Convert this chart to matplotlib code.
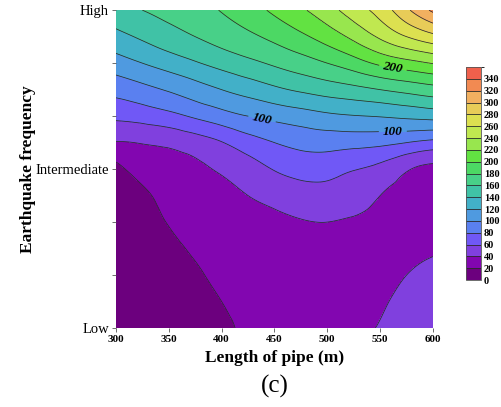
import numpy as np
import matplotlib
matplotlib.use("Agg")
import matplotlib.pyplot as plt
import matplotlib.tri as mtri
from matplotlib.colors import ListedColormap, BoundaryNorm

# ---- data ----
pipe_length = [300, 325, 350, 375, 400, 425, 450, 475, 500, 525, 550, 575, 600]
freq_pos = [0, 1/12, 2/12, 3/12, 4/12, 5/12, 6/12, 7/12, 8/12, 9/12, 10/12, 11/12, 1]
z_rows = [
    [6, 8, 10, 14, 17, 23, 26, 28, 31, 36, 41, 47, 51],
    [4, 7, 11, 15, 20, 25, 27, 29, 31, 34, 38, 44, 47],
    [3, 7, 13, 18, 24, 28, 29, 31, 32, 33, 35, 40, 43],
    [3, 8, 16, 22, 28, 31, 32, 34, 35, 34, 32, 35, 38],
    [4, 11, 21, 27, 32, 34, 36, 39, 40, 38, 34, 32, 31],
    [8, 16, 27, 32, 35, 40, 46, 51, 52, 48, 40, 35, 31],
    [15, 27, 33, 37, 42, 51, 61, 67, 67, 61, 54, 42, 35],
    [39, 41, 44, 50, 59, 71, 80, 86, 88, 87, 85, 80, 74],
    [64, 68, 74, 83, 92, 100, 106, 111, 116, 119, 121, 124, 127],
    [87, 94, 102, 111, 120, 128, 136, 143, 149, 154, 160, 166, 172],
    [111, 120, 129, 138, 147, 155, 163, 171, 180, 191, 204, 213, 221],
    [134, 143, 152, 160, 168, 176, 185, 196, 209, 225, 243, 260, 274],
    [153, 160, 166, 173, 181, 191, 204, 217, 232, 250, 268, 296, 324],
]
levels = list(range(0, 361, 20))
labeled_levels = [100, 200]
band_colors = ["#6c007e", "#8206b0", "#8040de", "#7058f6", "#5a80f0", "#4f9ae0",
               "#42b0c8", "#40c2a6", "#48d088", "#4cd864", "#62e242", "#98e64e",
               "#c0e850", "#dce050", "#e8cc58", "#f2b060", "#f28a52", "#f0604c"]
x_ticks = [300, 350, 400, 450, 500, 550, 600]
y_tick_labels = ["Low", "Intermediate", "High"]
label_spots = [(438, 0.654), (562, 0.628), (562, 0.817)]

plt.rcParams['font.family'] = ['Liberation Serif', 'DejaVu Serif']

fig = plt.figure(figsize=(5.02, 4.07), dpi=100)
ax = fig.add_axes([0.231, 0.194, 0.6315, 0.781])

# grid -> triangulation in normalized coords, refined by matplotlib
X, Y = np.meshgrid(pipe_length, freq_pos)
Z = np.array(z_rows, dtype=float)
u = (X.ravel() - 300) / 300.0
tri_n = mtri.Triangulation(u, Y.ravel())
refiner = mtri.UniformTriRefiner(tri_n)
interp = mtri.CubicTriInterpolator(tri_n, Z.ravel(), kind='min_E')
tri_r, z_r = refiner.refine_field(Z.ravel(), triinterpolator=interp, subdiv=4)
z_r = np.clip(z_r, 0.5, 359)
tri_plot = mtri.Triangulation(tri_r.x * 300 + 300, tri_r.y, tri_r.triangles)

cmap = ListedColormap(band_colors)
norm = BoundaryNorm(levels, cmap.N)
cf = ax.tricontourf(tri_plot, z_r, levels=levels, cmap=cmap, norm=norm)
plain_levels = [lv for lv in levels if lv not in labeled_levels]
ax.tricontour(tri_plot, z_r, levels=plain_levels, colors="#2a2a2a", linewidths=0.55)
cl = ax.tricontour(tri_plot, z_r, levels=labeled_levels, colors="#2a2a2a", linewidths=0.55)

texts = cl.clabel(manual=label_spots, inline=True, fmt='%d',
                  fontsize=9.5, inline_spacing=4)
for t in texts:
    t.set_fontweight('bold')
    t.set_fontstyle('italic')
    t.set_color('black')

ax.set_xlim(300, 600)
ax.set_ylim(0, 1)
for s in ax.spines.values():
    s.set_visible(False)
ax.set_xticks(x_ticks)
ax.set_xticklabels([str(v) for v in x_ticks], fontsize=8, fontweight='bold')
ax.set_yticks([0, 0.5, 1])
ax.set_yticklabels(y_tick_labels, fontsize=10.5)
ax.set_yticks([1/6, 2/6, 4/6, 5/6], minor=True)
ax.tick_params(axis='both', which='both', direction='out', length=3, width=0.6,
               color='#555555', pad=2)
ax.set_xlabel("Length of pipe (m)", fontsize=12.5, fontweight='bold', labelpad=4)
ax.set_ylabel("Earthquake frequency", fontsize=12.5, fontweight='bold', labelpad=0)

fig.text(0.548, 0.05, "(c)", fontsize=18, ha='center', va='center')

# colorbar
cax = fig.add_axes([0.928, 0.312, 0.030, 0.523])
cb = fig.colorbar(cf, cax=cax, ticks=levels[:-1])
cb.ax.tick_params(length=0, pad=2, labelsize=7.5)
for t in cb.ax.get_yticklabels():
    t.set_fontweight('bold')
for lv in levels[1:-1]:
    cb.ax.axhline(lv, color='#2a2a2a', lw=0.6)
cb.outline.set_edgecolor('#555555')
cb.outline.set_linewidth(0.6)

fig.savefig("out.png", dpi=100)
